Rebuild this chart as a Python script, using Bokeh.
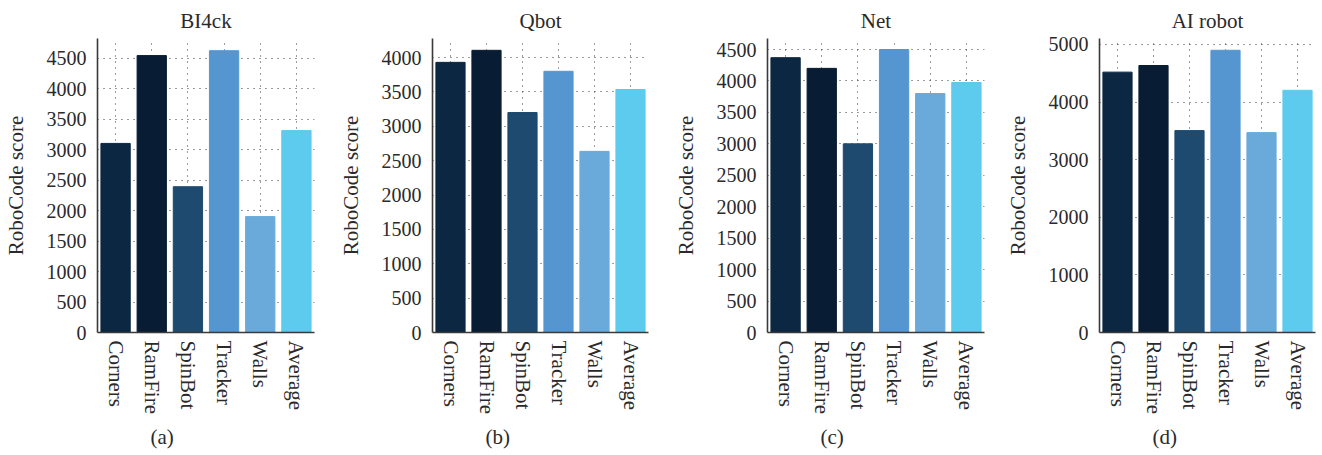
from bokeh.plotting import figure
from bokeh.layouts import row
from bokeh.models import ColumnDataSource, Range1d, FixedTicker, Title
from bokeh.embed import file_html
from bokeh.resources import INLINE

# Opponent robots and the average over them
categories = ["Corners", "RamFire", "SpinBot", "Tracker", "Walls", "Average"]

# RoboCode scores per opponent for each bot
bi4ck = [3100, 4540, 2390, 4620, 1900, 3310]
qbot = [3930, 4105, 3200, 3800, 2635, 3535]
net = [4370, 4200, 3000, 4500, 3800, 3975]
ai_robot = [4520, 4635, 3505, 4900, 3470, 4205]

bar_colors = ["#0c2742", "#081d33", "#1d4a6e", "#5596d0", "#69aadb", "#5ccbee"]

FONT = "Liberation Serif"
TEXT = "#2a2a2a"
WORD_SIZE = "21px"
DIGIT_SIZE = "20px"

panels = [
    # title, tag, values, y max, tick step, width, border left, border right
    ("BI4ck", "(a)", bi4ck, 4820, 500, 335, 95, 21),
    ("Qbot", "(b)", qbot, 4277, 500, 335, 94, 22),
    ("Net", "(c)", net, 4675, 500, 330, 95, 16),
    ("AI robot", "(d)", ai_robot, 5104, 1000, 322, 99, 7),
]


def make_panel(name, tag, values, ymax, step, width, left, right):
    src = ColumnDataSource(dict(cat=categories, score=values, color=bar_colors))
    p = figure(
        x_range=categories,
        y_range=Range1d(0, ymax),
        width=width,
        height=455,
        output_backend="svg",
        toolbar_location=None,
        min_border_left=left,
        min_border_right=right,
        min_border_top=38,
        min_border_bottom=123,
    )
    p.title.text = name
    p.title.align = "center"
    p.title.text_font = FONT
    p.title.text_font_size = WORD_SIZE
    p.title.text_font_style = "normal"
    p.title.text_color = TEXT
    p.title.standoff = 11

    p.vbar(x="cat", top="score", width=0.81, color="color", source=src)

    p.x_range.range_padding = 0
    p.outline_line_color = None
    p.background_fill_color = "white"

    # dotted grid behind the bars
    for g in (p.xgrid, p.ygrid):
        g.grid_line_color = "#3a3a3a"
        g.grid_line_dash = "1 5"
        g.grid_line_width = 1

    ticks = list(range(0, int(ymax) + 1, step))
    p.yaxis.ticker = FixedTicker(ticks=ticks)
    p.yaxis.axis_label = "RoboCode score"

    for ax in (p.xaxis, p.yaxis):
        ax.major_tick_out = 0
        ax.major_tick_in = 0
        ax.minor_tick_out = 0
        ax.minor_tick_in = 0
        ax.axis_line_color = "#3a3a3a"
        ax.axis_line_width = 1.6
        ax.major_label_text_font = FONT
        ax.major_label_text_color = TEXT
        ax.axis_label_text_font = FONT
        ax.axis_label_text_font_size = WORD_SIZE
        ax.axis_label_text_font_style = "normal"
        ax.axis_label_text_color = TEXT

    p.yaxis.major_label_text_font_size = DIGIT_SIZE
    p.xaxis.major_label_text_font_size = WORD_SIZE
    p.yaxis.major_label_standoff = 11
    p.yaxis.axis_label_standoff = 16
    p.xaxis.major_label_orientation = "vertical"
    p.xaxis.major_label_standoff = 8

    sub = Title(
        text=tag,
        align="left",
        offset=53,
        text_font=FONT,
        text_font_size=WORD_SIZE,
        text_font_style="normal",
        text_color=TEXT,
        standoff=13,
    )
    p.add_layout(sub, "below")
    return p


figs = [make_panel(*cfg) for cfg in panels]
layout = row(*figs, spacing=0)

open("out.html", "w").write(file_html(layout, INLINE))
